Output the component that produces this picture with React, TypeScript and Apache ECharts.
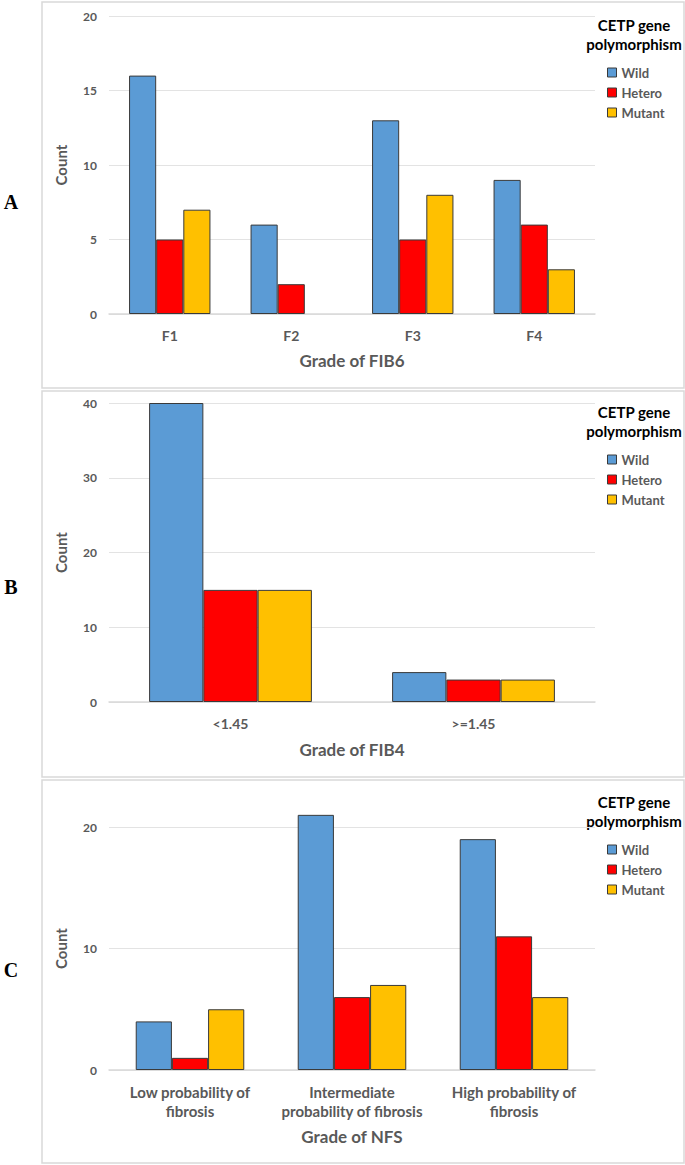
import React, { useEffect, useRef } from "react";
import * as echarts from "echarts";

// ---- data ----
const seriesNames = ["Wild", "Hetero", "Mutant"];
const colors = ["#5B9BD5", "#FF0000", "#FFC000"];

const categoriesA = ["F1", "F2", "F3", "F4"];
const wildA = [16, 6, 13, 9];
const heteroA = [5, 2, 5, 6];
const mutantA = [7, 0, 8, 3];

const categoriesB = ["<1.45", ">=1.45"];
const wildB = [40, 4];
const heteroB = [15, 3];
const mutantB = [15, 3];

const categoriesC = [
  "Low probability of\nfibrosis",
  "Intermediate\nprobability of fibrosis",
  "High probability of\nfibrosis",
];
const wildC = [4, 21, 19];
const heteroC = [1, 6, 11];
const mutantC = [5, 7, 6];

const yTicksA = { max: 20, interval: 5 };
const yTicksB = { max: 40, interval: 10 };
const yTicksC = { max: 20, interval: 10 };

const xTitles = ["Grade of FIB6", "Grade of FIB4", "Grade of NFS"];
const panelLetters = ["A", "B", "C"];
const legendTitle = "CETP gene\npolymorphism";

const FONT = "Lato, 'Open Sans', 'Noto Sans', sans-serif";
const GRAY = "#595959";
const BORDER = "#3a3a3a";

export default function App() {
  const ref = useRef<HTMLDivElement>(null);

  useEffect(() => {
    if (!ref.current) return;
    const chart = echarts.init(ref.current, undefined, { renderer: "svg" });

    const panels = [
      { cats: categoriesA, data: [wildA, heteroA, mutantA], y: yTicksA, top: 16, height: 298, box: [2, 386], legendTop: 65, titleY: 15, nameGap: 38, letterY: 202, labelMargin: 12, labelSize: 14, clip: true },
      { cats: categoriesB, data: [wildB, heteroB, mutantB], y: yTicksB, top: 403, height: 299, box: [391, 386], legendTop: 452, titleY: 402, nameGap: 39, letterY: 587, labelMargin: 12, labelSize: 14, clip: true },
      { cats: categoriesC, data: [wildC, heteroC, mutantC], y: yTicksC, top: 827, height: 243, box: [780, 383], legendTop: 842, titleY: 792, nameGap: 58, letterY: 970, labelMargin: 12, labelSize: 15, clip: false },
    ];

    const grid: any[] = [];
    const xAxis: any[] = [];
    const yAxis: any[] = [];
    const series: any[] = [];
    const legend: any[] = [];
    const graphic: any[] = [];

    panels.forEach((p, i) => {
      grid.push({ left: 109, top: p.top, width: 486, height: p.height });
      xAxis.push({
        type: "category",
        gridIndex: i,
        data: p.cats,
        name: xTitles[i],
        nameLocation: "middle",
        nameGap: p.nameGap,
        nameTextStyle: { fontFamily: FONT, fontSize: 17, fontWeight: "bold", color: GRAY },
        axisLine: { lineStyle: { color: "#d9d9d9", width: 1.5 } },
        axisTick: { show: false },
        axisLabel: {
          fontFamily: FONT,
          fontSize: p.labelSize,
          fontWeight: "bold",
          color: GRAY,
          margin: p.labelMargin,
          lineHeight: 19,
          interval: 0,
        },
      });
      yAxis.push({
        type: "value",
        gridIndex: i,
        min: 0,
        max: p.y.max,
        interval: p.y.interval,
        name: "Count",
        nameLocation: "middle",
        nameGap: 41,
        nameRotate: 90,
        nameTextStyle: { fontFamily: FONT, fontSize: 15, fontWeight: "bold", color: GRAY },
        axisLine: { show: false },
        axisTick: { show: false },
        axisLabel: { fontFamily: FONT, fontSize: 12, fontWeight: "bold", color: GRAY, margin: 12 },
        splitLine: { lineStyle: { color: "#e3e3e3", width: 1 } },
      });
      p.data.forEach((vals, k) => {
        series.push({
          type: "bar",
          name: seriesNames[k],
          xAxisIndex: i,
          yAxisIndex: i,
          barGap: "0%",
          barCategoryGap: "33%",
          clip: p.clip,
          itemStyle: { color: colors[k], borderColor: BORDER, borderWidth: 1 },
          data: vals.map((v) => (v === 0 ? { value: v, itemStyle: { borderWidth: 0 } } : v)),
        });
      });
      legend.push({
        orient: "vertical",
        left: 607,
        top: p.legendTop,
        padding: 0,
        itemWidth: 9,
        itemHeight: 9,
        itemGap: 5,
        selectedMode: false,
        textStyle: { fontFamily: FONT, fontSize: 13, fontWeight: "bold", color: GRAY, lineHeight: 15 },
        data: seriesNames.map((n, k) => ({
          name: n,
          icon: "rect",
          itemStyle: { color: colors[k], borderColor: BORDER, borderWidth: 1 },
        })),
      });
      graphic.push({
        type: "rect",
        shape: { x: 42, y: p.box[0], width: 642, height: p.box[1] },
        style: { fill: "none", stroke: "#d9d9d9", lineWidth: 1.5 },
        silent: true,
      });
      graphic.push({
        type: "text",
        x: 634,
        y: p.titleY,
        style: {
          text: legendTitle,
          fontFamily: FONT,
          fontSize: 15,
          fontWeight: "bold",
          fill: "#000",
          align: "center",
          lineHeight: 19,
        },
        silent: true,
      });
      graphic.push({
        type: "text",
        x: 11,
        y: p.letterY,
        style: {
          text: panelLetters[i],
          fontFamily: "'Liberation Serif', 'DejaVu Serif', serif",
          fontSize: 20,
          fontWeight: "bold",
          fill: "#000",
          align: "center",
          verticalAlign: "middle",
        },
        silent: true,
      });
    });

    chart.setOption({
      animation: false,
      backgroundColor: "#fff",
      grid,
      xAxis,
      yAxis,
      series,
      legend,
      graphic,
    });

    return () => chart.dispose();
  }, []);

  return (
    <div
      ref={ref}
      style={{ position: "absolute", left: 0, top: 0, width: 685, height: 1165 }}
    />
  );
}
